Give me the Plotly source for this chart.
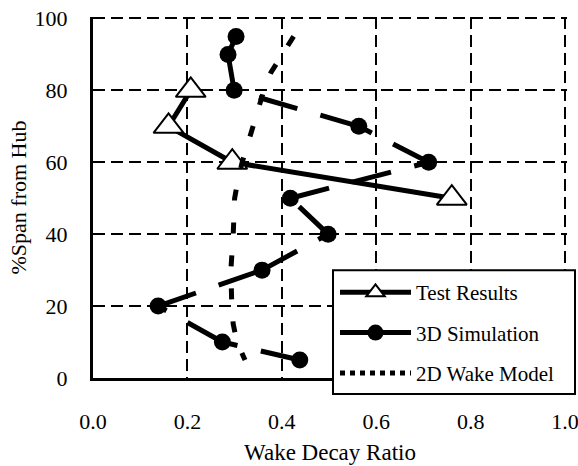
import plotly.graph_objects as go

# ---- data ----
test_span = [80, 70, 60, 50]
test_ratio = [0.207, 0.16, 0.295, 0.76]

sim_span = [5, 10, 20, 30, 40, 50, 60, 70, 80, 90, 95]
sim_ratio = [0.438, 0.274, 0.138, 0.358, 0.498, 0.418, 0.711, 0.563, 0.299, 0.286, 0.303]

wake_span = [95, 90, 85, 80, 75, 70, 65, 60, 55, 50, 40, 30, 20, 15, 10, 5]
wake_ratio = [0.425, 0.40, 0.377, 0.362, 0.35, 0.338, 0.327, 0.316, 0.307, 0.30,
              0.297, 0.292, 0.294, 0.297, 0.305, 0.322]

x_ticks = [0.0, 0.2, 0.4, 0.6, 0.8, 1.0]
y_ticks = [0, 20, 40, 60, 80, 100]

FONT = "Liberation Serif"

fig = go.Figure()

# Test results
fig.add_trace(go.Scatter(
    x=test_ratio, y=test_span, mode="lines+markers", name="Test Results",
    legendgroup="test", showlegend=False,
    line=dict(color="black", width=5),
    marker=dict(symbol="triangle-up", size=26, color="white",
                line=dict(color="black", width=2)),
))

# 3D simulation: each segment drawn separately (dash restarts per segment)
for i in range(len(sim_span) - 1):
    fig.add_trace(go.Scatter(
        x=sim_ratio[i:i + 2], y=sim_span[i:i + 2], mode="lines",
        legendgroup="sim", showlegend=False, hoverinfo="skip",
        line=dict(color="black", width=5, dash="40px,24px"),
    ))
fig.add_trace(go.Scatter(
    x=sim_ratio, y=sim_span, mode="markers", legendgroup="sim", showlegend=False,
    marker=dict(symbol="circle", size=17, color="black"),
))

# 2D wake model
fig.add_trace(go.Scatter(
    x=wake_ratio, y=wake_span, mode="lines", legendgroup="wake", showlegend=False,
    line=dict(color="black", width=5, dash="11px,22px"),
))

# legend entries
fig.add_trace(go.Scatter(
    x=[None], y=[None], mode="lines+markers", name="Test Results", legendgroup="test",
    line=dict(color="black", width=5),
    marker=dict(symbol="triangle-up", size=26, color="white",
                line=dict(color="black", width=2)),
))
fig.add_trace(go.Scatter(
    x=[None], y=[None], mode="lines+markers", name="3D Simulation", legendgroup="sim",
    line=dict(color="black", width=5),
    marker=dict(symbol="circle", size=17, color="black"),
))
fig.add_trace(go.Scatter(
    x=[None], y=[None], mode="lines", name="2D Wake Model", legendgroup="wake",
    line=dict(color="black", width=5, dash="5px,5px"),
))

W, H = 578, 466
XMAX, YMAX = 1.004, 100.4
L, B = 93, 88
pw = round(472 * XMAX)
ph = 360 * YMAX / 100
R = W - L - pw
T = H - B - ph

def px_x(p):
    return (p - L) / pw

def px_y(p):
    return (H - B - p) / ph

fig.add_shape(type="rect", xref="paper", yref="paper",
              x0=px_x(333), x1=px_x(575), y0=px_y(394), y1=px_y(270),
              line=dict(color="black", width=2), fillcolor="white", layer="above")

tick_font = dict(family=FONT, size=22, color="black")

axis_common = dict(
    showgrid=True, gridcolor="black", gridwidth=2, griddash="12px,6px",
    showline=True, linecolor="black", linewidth=3, zeroline=False,
    ticks="", ticklabeloverflow="allow",
)

fig.update_xaxes(range=[0, XMAX], tickvals=x_ticks, ticktext=[f"{v:.1f}" for v in x_ticks],
                 tickfont=tick_font,
                 title=dict(text="Wake Decay Ratio", standoff=11,
                            font=dict(family=FONT, size=23, color="black")),
                 ticklabelstandoff=22, **axis_common)
fig.update_yaxes(range=[0, YMAX], tickvals=y_ticks, ticktext=[str(v) for v in y_ticks],
                 tickfont=tick_font,
                 title=dict(text="%Span from Hub", standoff=2,
                            font=dict(family=FONT, size=22, color="black")),
                 ticklabelstandoff=18, **axis_common)

fig.update_layout(
    template="none",
    width=W, height=H,
    margin=dict(l=L, r=R, t=T, b=B, autoexpand=False),
    plot_bgcolor="white", paper_bgcolor="white",
    font=dict(family=FONT, size=22, color="black"),
    legend=dict(x=px_x(335), y=px_y(272), xanchor="left", yanchor="top",
                bgcolor="rgba(0,0,0,0)", borderwidth=0,
                font=dict(family=FONT, size=21, color="black"),
                itemwidth=71, tracegroupgap=10, traceorder="grouped"),
)

fig.write_html("out.html")
